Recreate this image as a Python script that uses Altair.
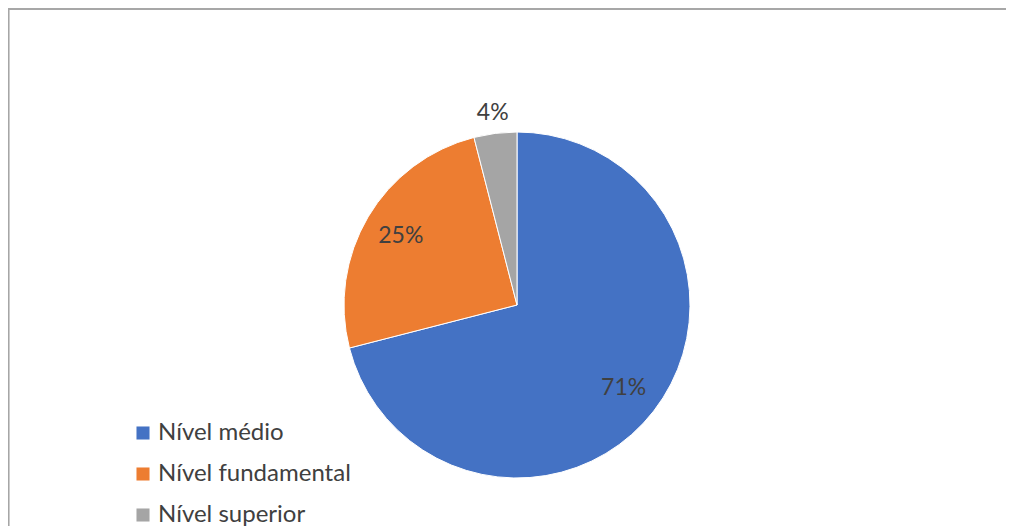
import altair as alt
import pandas as pd
import math

categories = ["Nível médio", "Nível fundamental", "Nível superior"]
values = [71, 25, 4]
labels = ["71%", "25%", "4%"]
colors = ["#4472C4", "#ED7D31", "#A5A5A5"]

df = pd.DataFrame({"cat": categories, "value": values, "label": labels,
                   "order": list(range(len(categories)))})

W, H = 998, 518
CX, CY, R = 509, 297, 173
FONT = "Lato"

color = alt.Color("cat:N", sort=categories,
                  scale=alt.Scale(domain=categories, range=colors),
                  legend=alt.Legend(title=None, orient="none", legendX=123, legendY=413,
                                    symbolType="square", symbolSize=170,
                                    symbolStrokeWidth=0, labelFontSize=24,
                                    labelFont=FONT, labelColor="#404040",
                                    labelLimit=0, labelOffset=3, rowPadding=17, padding=0))

pie = alt.Chart(df).mark_arc(outerRadius=R, stroke="white", strokeWidth=1).encode(
    theta=alt.Theta("value:Q", stack=True),
    order=alt.Order("order:Q"),
    color=color, x=alt.value(CX), y=alt.value(CY))

text_base = alt.Chart(df).transform_window(
    cum="sum(value)", sort=[alt.SortField("order")], frame=[None, 0]
).transform_joinaggregate(total="sum(value)").transform_calculate(
    mid="(datum.cum - datum.value / 2) / datum.total"
).encode(
    theta=alt.Theta("mid:Q", stack=None,
                    scale=alt.Scale(domain=[0, 1], range=[0, 2 * math.pi])),
    text="label:N", x=alt.value(CX), y=alt.value(CY),
)

txt_in = text_base.mark_text(fontSize=23, font=FONT, color="#404040", align="center",
                             baseline="middle").encode(
    radius=alt.value(135)).transform_filter("datum.value >= 10")

txt_out = text_base.mark_text(fontSize=23, font=FONT, color="#404040", align="center",
                              baseline="middle").encode(
    radius=alt.value(194)).transform_filter("datum.value < 10")

border_top = alt.Chart(df).mark_rule(color="#a6a6a6", strokeWidth=1.5).encode(
    x=alt.value(0), x2=alt.value(W), y=alt.value(1))
border_left = alt.Chart(df).mark_rule(color="#a6a6a6", strokeWidth=1.5).encode(
    x=alt.value(0.5), y=alt.value(1), y2=alt.value(H))

chart = alt.layer(border_top, border_left, pie, txt_in, txt_out).resolve_scale(
    theta="independent"
).properties(
    width=W, height=H, padding=0, autosize=alt.AutoSizeParams(type="none")
).configure_view(strokeWidth=0, stroke="transparent")

chart.save("out.html", embed_options={"renderer": "svg", "actions": False})
